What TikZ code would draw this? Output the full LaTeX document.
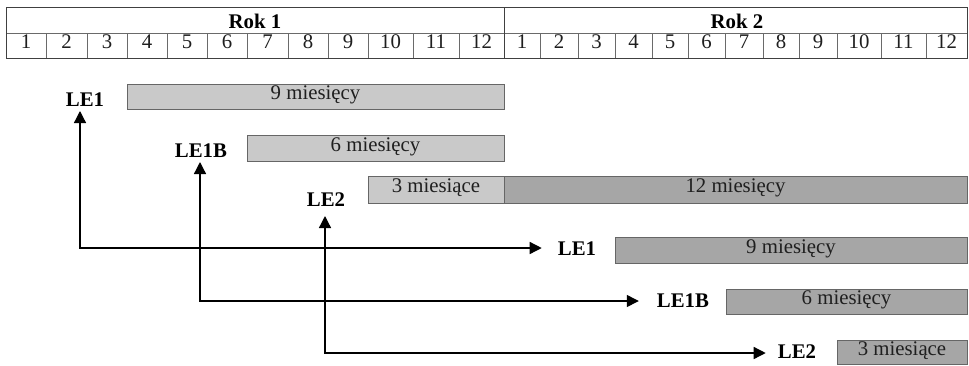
\documentclass[tikz,border=0pt]{standalone}
\usepackage{fontspec}
\setmainfont{Liberation Serif}
\usetikzlibrary{arrows.meta}
\definecolor{lightbar}{HTML}{C9C9C9}
\definecolor{darkbar}{HTML}{A6A6A6}
\definecolor{barline}{HTML}{666666}
\definecolor{gridline}{HTML}{6A6A6A}
\definecolor{outline}{HTML}{404040}
\begin{document}
\begin{tikzpicture}[x=1pt,y=-1pt,
  txt/.style={font=\fontsize{20.8}{23}\selectfont, inner sep=0pt},
  lbl/.style={font=\fontsize{20.8}{23}\selectfont\bfseries, inner sep=0pt},
  barL/.style={draw=barline, fill=lightbar, line width=0.9pt, inner sep=0pt, text=black!88,
    font=\fontsize{20.8}{23}\selectfont, text depth=0pt, text height=0.66em},
  barD/.style={barL, fill=darkbar},
  arr/.style={line width=1.3pt, black, {Triangle[width=12pt,length=12pt]}-{Triangle[width=12pt,length=12pt]}}]
\useasboundingbox (0,0) rectangle (969,365);
% table
\draw[gridline, line width=0.9pt] (6,33) -- (967,33);
\foreach \x in {46,87,127,167,207,247,288,328,368,413,459,540,578,615,652,688,725,763,799,837,881,926}
  \draw[gridline, line width=0.9pt] (\x,33) -- (\x,58);
\draw[outline, line width=1pt] (504,7) -- (504,58);
\draw[outline, line width=1pt] (6,7) rectangle (967,58);
\node[lbl] at (255,21) {Rok 1};
\node[lbl] at (737,21) {Rok 2};
\foreach \a/\b/\n in {6/46/1,46/87/2,87/127/3,127/167/4,167/207/5,207/247/6,247/288/7,288/328/8,328/368/9,368/413/10,413/459/11,459/504/12,
  504/540/1,540/578/2,578/615/3,615/652/4,652/688/5,688/725/6,725/763/7,763/799/8,799/837/9,837/881/10,881/926/11,926/967/12}
  \node[txt, text height=0.66em, text depth=0pt, text=black!88] at ({(\a+\b)/2},45.5) {\n};
% bars
\node[barL, minimum width=377pt, minimum height=25pt] (b1) at (315.5,96.5) {9 miesięcy};
\node[barL, minimum width=257pt, minimum height=26pt] (b2) at (375.5,148) {6 miesięcy};
\node[barL, minimum width=136pt, minimum height=27pt] (b3) at (436,189.5) {3 miesiące};
\node[barD, minimum width=463pt, minimum height=27pt] (b4) at (735.5,189.5) {12 miesięcy};
\node[barD, minimum width=352pt, minimum height=26pt] (b5) at (791,250) {9 miesięcy};
\node[barD, minimum width=241pt, minimum height=25pt] (b6) at (846.5,301.5) {6 miesięcy};
\node[barD, minimum width=130pt, minimum height=24pt] (b7) at (902,352) {3 miesiące};
% labels
\node[lbl] (L1a) at (85,99.5) {LE1};
\node[lbl] (L2a) at (201,151) {LE1B};
\node[lbl] (L3a) at (326,200) {LE2};
\node[lbl] (L1b) at (577,249) {LE1};
\node[lbl] (L2b) at (683,301) {LE1B};
\node[lbl] (L3b) at (797,352) {LE2};
% arrows
\coordinate (t1) at (80,111);
\coordinate (t2) at (200,162);
\coordinate (t3) at (325,216);
\draw[arr] (t1) |- ([xshift=-16pt,yshift=1pt]L1b.west);
\draw[arr] (t2) |- ([xshift=-18pt]L2b.west);
\draw[arr] (t3) |- ([xshift=-12pt,yshift=-1pt]L3b.west);
\end{tikzpicture}
\end{document}
